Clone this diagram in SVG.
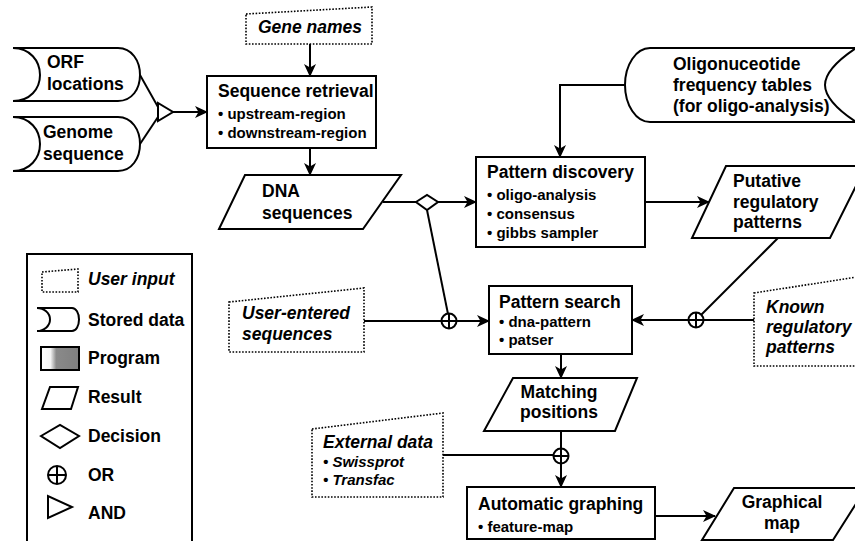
<svg xmlns="http://www.w3.org/2000/svg" width="855" height="541" viewBox="0 0 855 541">
<style>
.bg{fill:#fff}
.sh{fill:#fff;stroke:#000;stroke-width:2;stroke-linejoin:miter}
.ui{fill:#fff;stroke:#000;stroke-width:1.6;stroke-dasharray:1.6 1.6}
.ln{fill:none;stroke:#000;stroke-width:2}
.t{font-family:"Liberation Sans",Arial,Helvetica,sans-serif;font-weight:bold;font-size:17.5px;fill:#000}
.s{font-size:15px}
.i{font-style:italic}
.m{text-anchor:middle}
.or{fill:#fff;stroke:#000;stroke-width:2}
</style>
<defs>
<marker id="ah" markerUnits="userSpaceOnUse" markerWidth="14" markerHeight="12" refX="12" refY="6" orient="auto">
<path d="M0,0 L13,6 L0,12 L3.5,6 Z" fill="#000"/>
</marker>
<linearGradient id="pg" x1="0" y1="0" x2="1" y2="0">
<stop offset="0" stop-color="#fff"/>
<stop offset="0.25" stop-color="#f4f4f4"/>
<stop offset="0.4" stop-color="#8a8a8a"/>
<stop offset="1" stop-color="#7f7f7f"/>
</linearGradient>
<g id="orsym">
<circle cx="0" cy="0" r="7.5" class="or"/>
<path d="M-7.5,0 H7.5 M0,-7.5 V7.5" class="ln"/>
</g>
<g id="orbig">
<circle cx="0" cy="0" r="9" class="or"/>
<path d="M-9,0 H9 M0,-9 V9" class="ln"/>
</g>
</defs>
<rect width="855" height="541" class="bg"/>

<g id="connectors">
<path class="ln" d="M140,75 L158,107"/>
<path class="ln" d="M140,144 L158,117"/>
<path class="ln" d="M173,112 L207,112" marker-end="url(#ah)"/>
<path class="ln" d="M310,44 L310,76" marker-end="url(#ah)"/>
<path class="ln" d="M310,148 L310,175" marker-end="url(#ah)"/>
<path class="ln" d="M383,202 L416,202"/>
<path class="ln" d="M438,202 L476,202" marker-end="url(#ah)"/>
<path class="ln" d="M427,210 L448,314"/>
<path class="ln" d="M364,321 L442,321"/>
<path class="ln" d="M456,321 L489,321" marker-end="url(#ah)"/>
<path class="ln" d="M625,85 L560,85 L560,157" marker-end="url(#ah)"/>
<path class="ln" d="M645,202 L709,202" marker-end="url(#ah)"/>
<path class="ln" d="M778,238 L701,315"/>
<path class="ln" d="M754,320 L703,320"/>
<path class="ln" d="M689,320 L632,320" marker-end="url(#ah)"/>
<path class="ln" d="M561,354 L561,378" marker-end="url(#ah)"/>
<path class="ln" d="M561,431 L561,449"/>
<path class="ln" d="M561,463 L561,487" marker-end="url(#ah)"/>
<path class="ln" d="M443,455 L554,455"/>
<path class="ln" d="M655,516 L715,516" marker-end="url(#ah)"/>
<g id="and1"><path class="sh" d="M158,103 L158,121 L173,112 Z"/></g>
<g id="dec1"><path class="sh" d="M416,202 L427,195 L438,202 L427,210 Z"/></g>
<use href="#orsym" x="449" y="321"/>
<use href="#orsym" x="696" y="320"/>
<use href="#orsym" x="561" y="456"/>
</g>

<g id="orf">
<path class="sh" d="M13,48 L118,48 C132,48 140,61 140,75 C140,89 132,101 118,101 L13,101 C30,101 40,89 40,75 C40,61 30,48 13,48 Z"/>
<text class="t" x="47" y="68">ORF</text>
<text class="t" x="47" y="90">locations</text>
</g>
<g id="genome">
<path class="sh" d="M13,117 L118,117 C132,117 140,130 140,144 C140,158 132,171 118,171 L13,171 C30,171 40,158 40,144 C40,130 30,117 13,117 Z"/>
<text class="t" x="43" y="138">Genome</text>
<text class="t" x="43" y="160">sequence</text>
</g>
<g id="genenames">
<path class="ui" d="M246,14 L372,7 L372,44 L246,44 Z"/>
<text class="t i m" x="310" y="33">Gene names</text>
</g>
<g id="seqret">
<rect class="sh" x="207" y="76" width="169" height="72"/>
<text class="t" x="218" y="97">Sequence retrieval</text>
<text class="t s" x="218" y="119">• upstream-region</text>
<text class="t s" x="218" y="138">• downstream-region</text>
</g>
<g id="dnaseq">
<path class="sh" d="M245,175 L401,175 L363,229 L219,229 Z"/>
<text class="t" x="262" y="197">DNA</text>
<text class="t" x="262" y="219">sequences</text>
</g>
<g id="oligo">
<path class="sh" d="M650,48 L856,48 C838,60 825,72 825,85 C825,98 838,110 856,122 L650,122 C636,122 625,105 625,85 C625,65 636,48 650,48 Z"/>
<text class="t" x="673" y="70">Oligonuceotide</text>
<text class="t" x="673" y="91">frequency tables</text>
<text class="t" x="673" y="112" font-size="14.5px">(for oligo-analysis)</text>
</g>
<g id="patdisc">
<rect class="sh" x="476" y="157" width="169" height="90"/>
<text class="t" x="487" y="178">Pattern discovery</text>
<text class="t s" x="487" y="200">• oligo-analysis</text>
<text class="t s" x="487" y="219">• consensus</text>
<text class="t s" x="487" y="238">• gibbs sampler</text>
</g>
<g id="putative">
<path class="sh" d="M726,166 L866,166 L830,238 L692,238 Z"/>
<text class="t" x="733" y="187">Putative</text>
<text class="t" x="733" y="208">regulatory</text>
<text class="t" x="733" y="228">patterns</text>
</g>
<g id="userentered">
<path class="ui" d="M229,302 L364,288 L364,352 L229,352 Z"/>
<text class="t i" x="242" y="319">User-entered</text>
<text class="t i" x="242" y="340">sequences</text>
</g>
<g id="patsearch">
<rect class="sh" x="489" y="286" width="143" height="68"/>
<text class="t" x="499" y="308">Pattern search</text>
<text class="t s" x="499" y="327">• dna-pattern</text>
<text class="t s" x="499" y="345">• patser</text>
</g>
<g id="known">
<path class="ui" d="M754,293 L870,275 L870,366 L754,366 Z"/>
<text class="t i" x="766" y="313">Known</text>
<text class="t i" x="766" y="333">regulatory</text>
<text class="t i" x="766" y="353">patterns</text>
</g>
<g id="matching">
<path class="sh" d="M513,378 L637,378 L615,431 L484,431 Z"/>
<text class="t m" x="559" y="398">Matching</text>
<text class="t m" x="559" y="418">positions</text>
</g>
<g id="external">
<path class="ui" d="M312,429 L443,413 L443,497 L312,497 Z"/>
<text class="t i" x="323" y="448">External data</text>
<text class="t i s" x="323" y="467">• Swissprot</text>
<text class="t i s" x="323" y="485">• Transfac</text>
</g>
<g id="graphing">
<rect class="sh" x="467" y="487" width="188" height="52"/>
<text class="t" x="478" y="510">Automatic graphing</text>
<text class="t s" x="478" y="532">• feature-map</text>
</g>
<g id="graphmap">
<path class="sh" d="M734,488 L866,488 L833,540 L702,540 Z"/>
<text class="t m" x="782" y="508">Graphical</text>
<text class="t m" x="782" y="529">map</text>
</g>

<g id="legend">
<path class="sh" d="M27,545 L27,254 L192,254 L192,545"/>
<path class="ui" d="M42,272 L78,269 L78,292 L42,292 Z"/>
<text class="t i" x="88" y="285">User input</text>
<path class="sh" d="M37,308 L72,308 C76,308 79,313 79,319.5 C79,326 76,331 72,331 L37,331 C44,331 50,326 50,319.5 C50,313 44,308 37,308 Z"/>
<text class="t" x="88" y="326">Stored data</text>
<rect x="41" y="347" width="38" height="23" fill="url(#pg)" stroke="#000" stroke-width="2"/>
<text class="t" x="88" y="364">Program</text>
<path class="sh" d="M50,387 L78,387 L71,409 L42,409 Z"/>
<text class="t" x="88" y="403">Result</text>
<path class="sh" d="M41,436 L60,425 L79,436 L60,448 Z"/>
<text class="t" x="88" y="442">Decision</text>
<use href="#orbig" x="57" y="475"/>
<text class="t" x="88" y="481">OR</text>
<path class="sh" d="M48,496 L48,518 L72,507 Z"/>
<text class="t" x="88" y="519">AND</text>
</g>
</svg>
